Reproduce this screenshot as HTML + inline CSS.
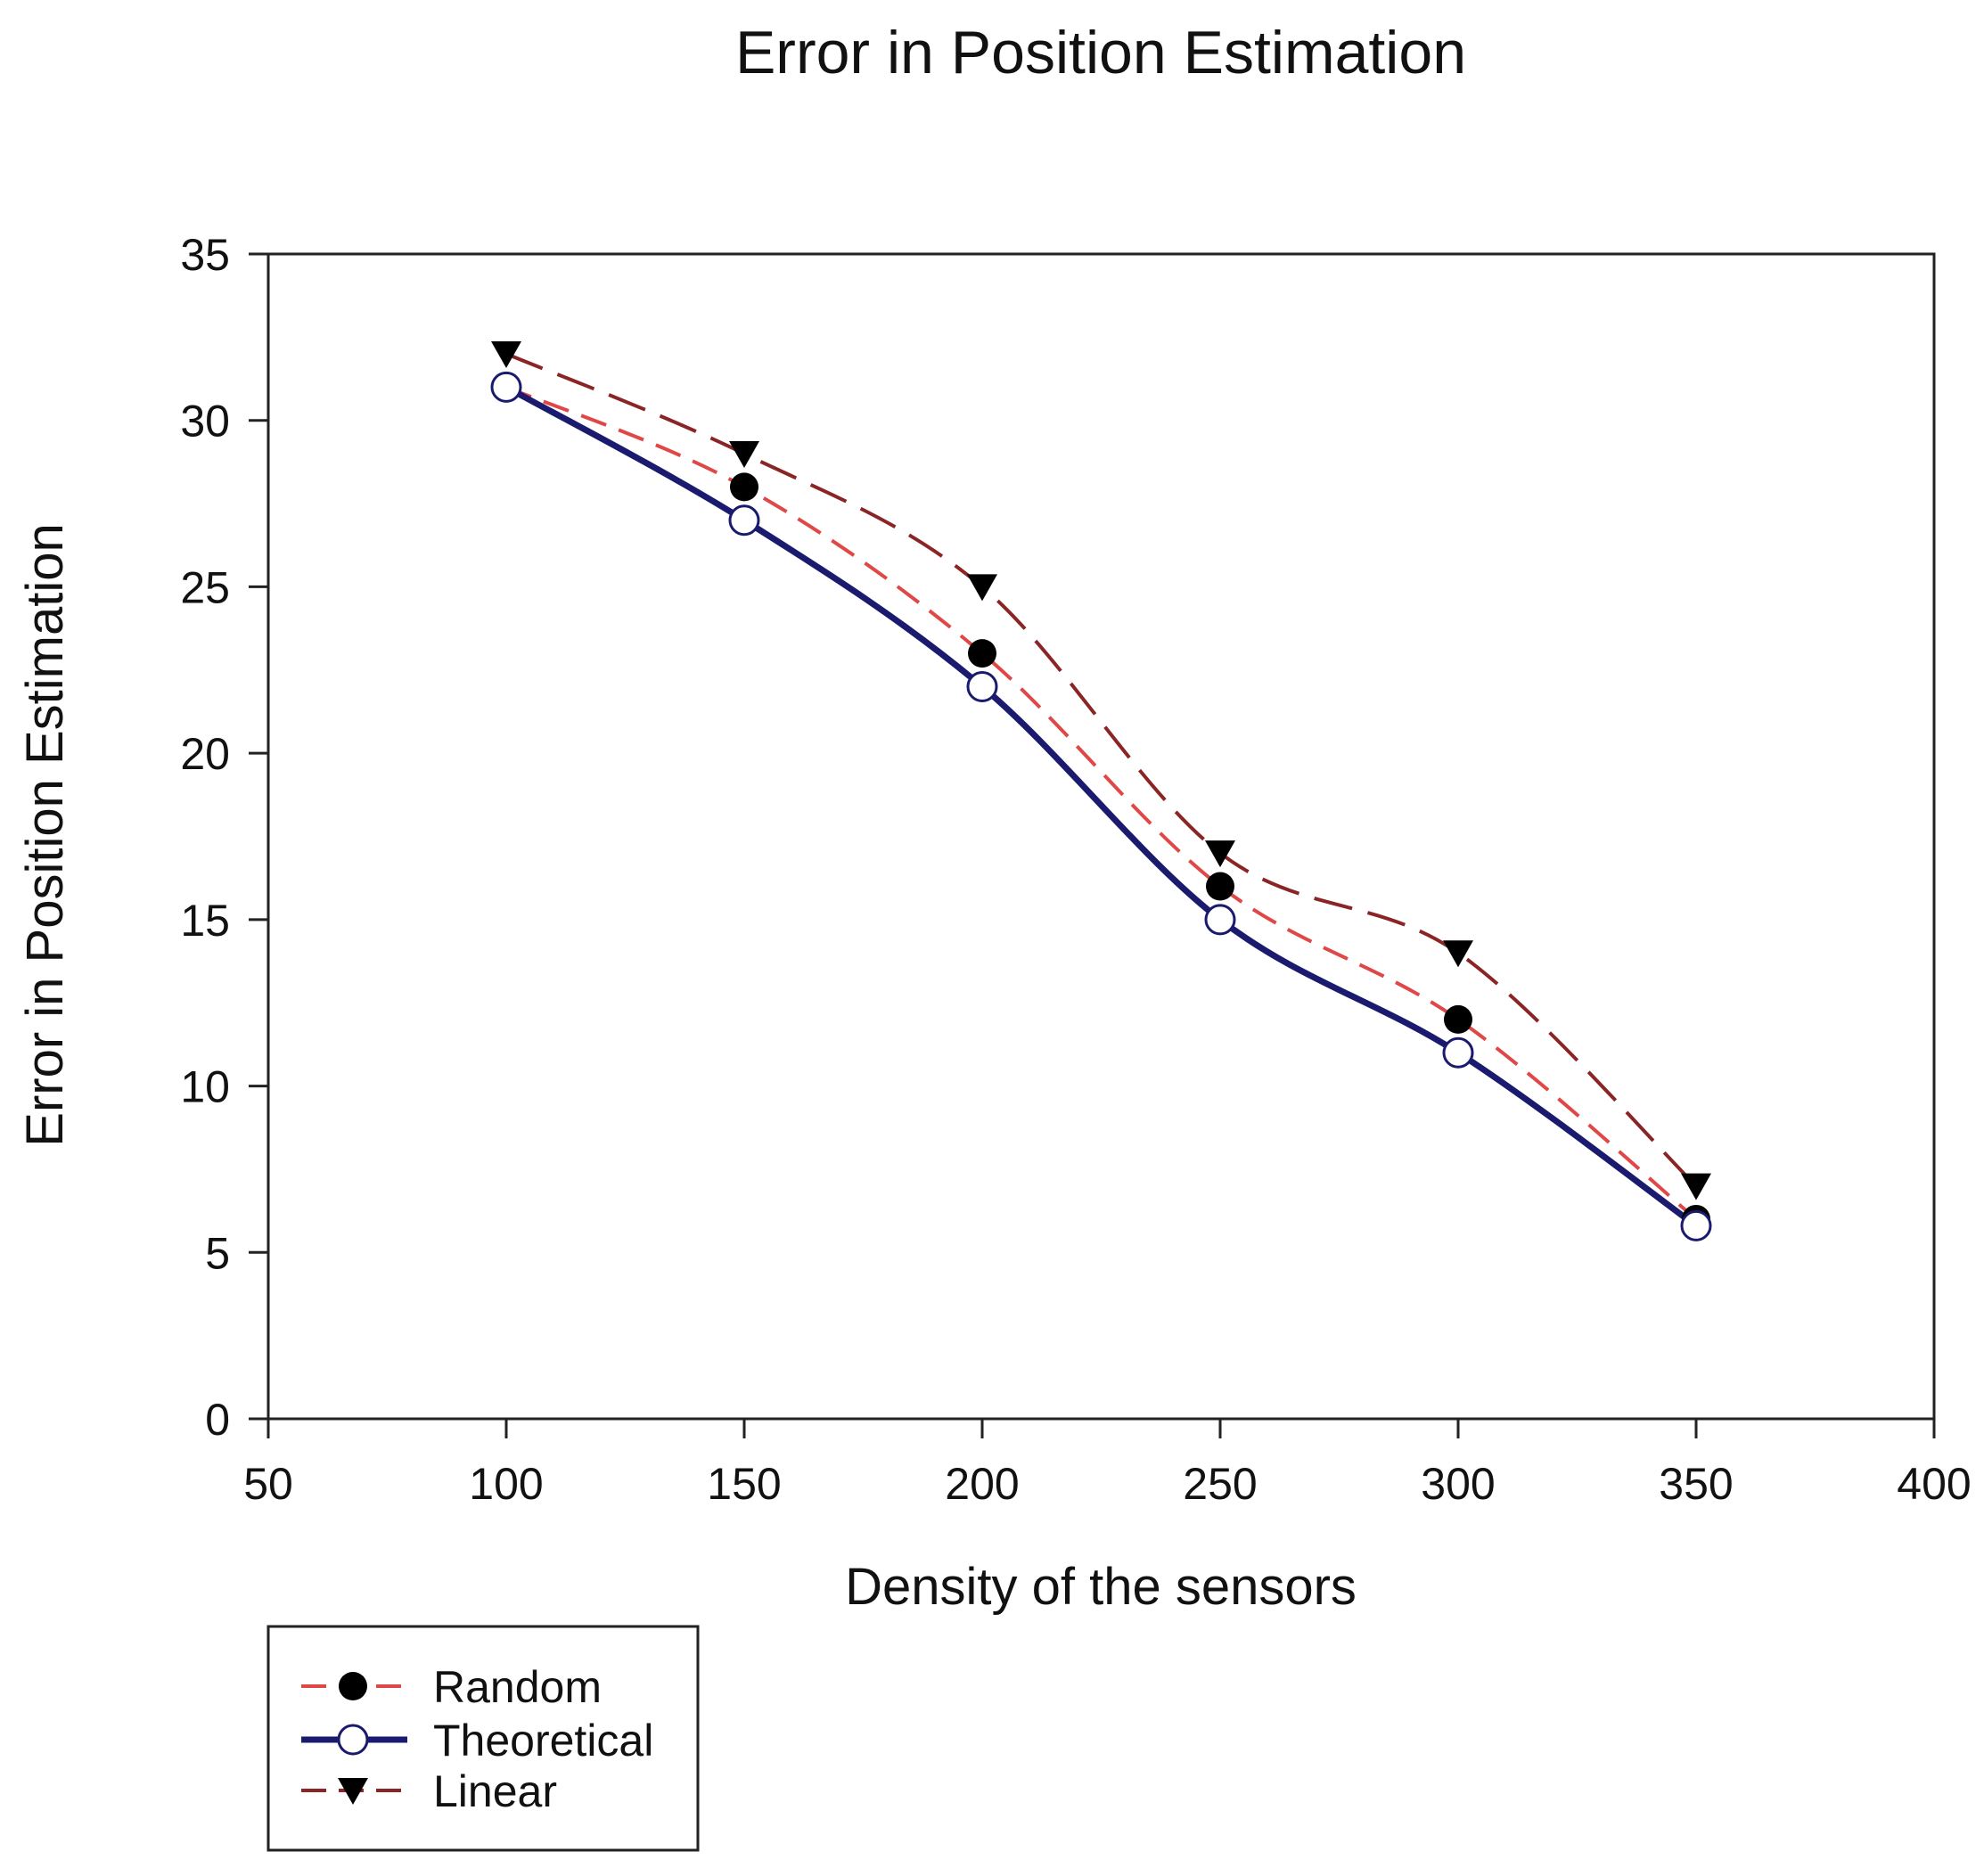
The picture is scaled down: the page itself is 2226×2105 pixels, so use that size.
<!DOCTYPE html>
<html><head><meta charset="utf-8"><style>
body{margin:0;background:#fff;}
svg text{font-family:"Liberation Sans",Arial,sans-serif;fill:#111;}
</style></head><body>
<svg id="chart" width="2226" height="2100" xmlns="http://www.w3.org/2000/svg">
<text x="1235" y="82" font-size="68" text-anchor="middle">Error in Position Estimation</text>
<text x="1235" y="1800" font-size="58" text-anchor="middle">Density of the sensors</text>
<text transform="translate(70,937) rotate(-90)" font-size="58" text-anchor="middle">Error in Position Estimation</text>
<g id="axes"></g>
<g id="series"></g>
<g>
<rect x="301" y="1825" width="482" height="251" fill="none" stroke="#222" stroke-width="3"/>
<g>
<line x1="338" y1="1892" x2="457" y2="1892" stroke="#e04848" stroke-width="4" stroke-dasharray="28,14"/>
<circle cx="396" cy="1892" r="16" fill="#000"/>
<text x="486" y="1910" font-size="50">Random</text></g>
<g>
<line x1="338" y1="1952" x2="457" y2="1952" stroke="#1a1a6e" stroke-width="7"/>
<circle cx="396" cy="1952" r="16" fill="#fff" stroke="#1a1a6e" stroke-width="3"/>
<text x="486" y="1970" font-size="50">Theoretical</text></g>
<g>
<line x1="338" y1="2009" x2="457" y2="2009" stroke="#8b2525" stroke-width="4" stroke-dasharray="28,14"/>
<path d="M379,1995 L413,1995 L396,2025 Z" fill="#000"/>
<text x="486" y="2027" font-size="50">Linear</text></g>
</g>
</svg>
<script>
const xs=[100,150,200,250,300,350];
const randomVals=[31,28,23,16,12,6];
const theoreticalVals=[31,27,22,15,11,5.8];
const linearVals=[32,29,25,17,14,7];
const xTicks=[50,100,150,200,250,300,350,400];
const yTicks=[0,5,10,15,20,25,30,35];
const NS="http://www.w3.org/2000/svg";
const L=301,R=2170,T=285,B=1592;
const sx=v=>L+(v-50)/350*(R-L);
const sy=v=>B-v/35*(B-T);
function mk(tag,attrs,parent){const e=document.createElementNS(NS,tag);for(const k in attrs)e.setAttribute(k,attrs[k]);parent.appendChild(e);return e;}
const axes=document.getElementById('axes');
const frame=mk('rect',{x:L,y:T,width:R-L,height:B-T,fill:'none',stroke:'#222','stroke-width':3},axes);


xTicks.forEach(t=>{
 const ln=mk('line',{x1:sx(t),x2:sx(t),y1:B,y2:B+22,stroke:'#222','stroke-width':3},axes);
 
 
 const tx=mk('text',{x:sx(t),y:1682,'font-size':50,'text-anchor':'middle'},axes);tx.textContent=t;
 
 
});
yTicks.forEach(t=>{
 const ln=mk('line',{x1:L-22,x2:L,y1:sy(t),y2:sy(t),stroke:'#222','stroke-width':3},axes);
 
 
 const tx=mk('text',{x:258,y:sy(t)+18,'font-size':50,'text-anchor':'end'},axes);tx.textContent=t;
 
 
});
function smooth(vals){
 const p=xs.map((x,i)=>[sx(x),sy(vals[i])]);
 let d=`M${p[0][0]},${p[0][1]}`;
 for(let i=0;i<p.length-1;i++){
  const p0=p[i-1]||p[i],p1=p[i],p2=p[i+1],p3=p[i+2]||p[i+1];
  const c1=[p1[0]+(p2[0]-p0[0])/6,p1[1]+(p2[1]-p0[1])/6];
  const c2=[p2[0]-(p3[0]-p1[0])/6,p2[1]-(p3[1]-p1[1])/6];
  d+=` C${c1[0]},${c1[1]} ${c2[0]},${c2[1]} ${p2[0]},${p2[1]}`;
 }
 return d;
}
const S=document.getElementById('series');
const lin=mk('path',{d:smooth(linearVals),fill:'none',stroke:'#8b2525','stroke-width':4,'stroke-dasharray':'44,18'},S);


const rnd=mk('path',{d:smooth(randomVals),fill:'none',stroke:'#e04848','stroke-width':4,'stroke-dasharray':'30,15'},S);


const th=mk('path',{d:smooth(theoreticalVals),fill:'none',stroke:'#1a1a6e','stroke-width':7},S);


xs.forEach((x,i)=>{
 const X=sx(x),Y=sy(linearVals[i]);
 const tri=mk('path',{d:`M${X-17},${Y-14} L${X+17},${Y-14} L${X},${Y+16} Z`,fill:'#000'},S);
 
 
 const c=mk('circle',{cx:X,cy:sy(randomVals[i]),r:16,fill:'#000'},S);
 
 
 const o=mk('circle',{cx:X,cy:sy(theoreticalVals[i]),r:16,fill:'#fff',stroke:'#1a1a6e','stroke-width':3},S);
 
 
});
</script>
</body></html>
